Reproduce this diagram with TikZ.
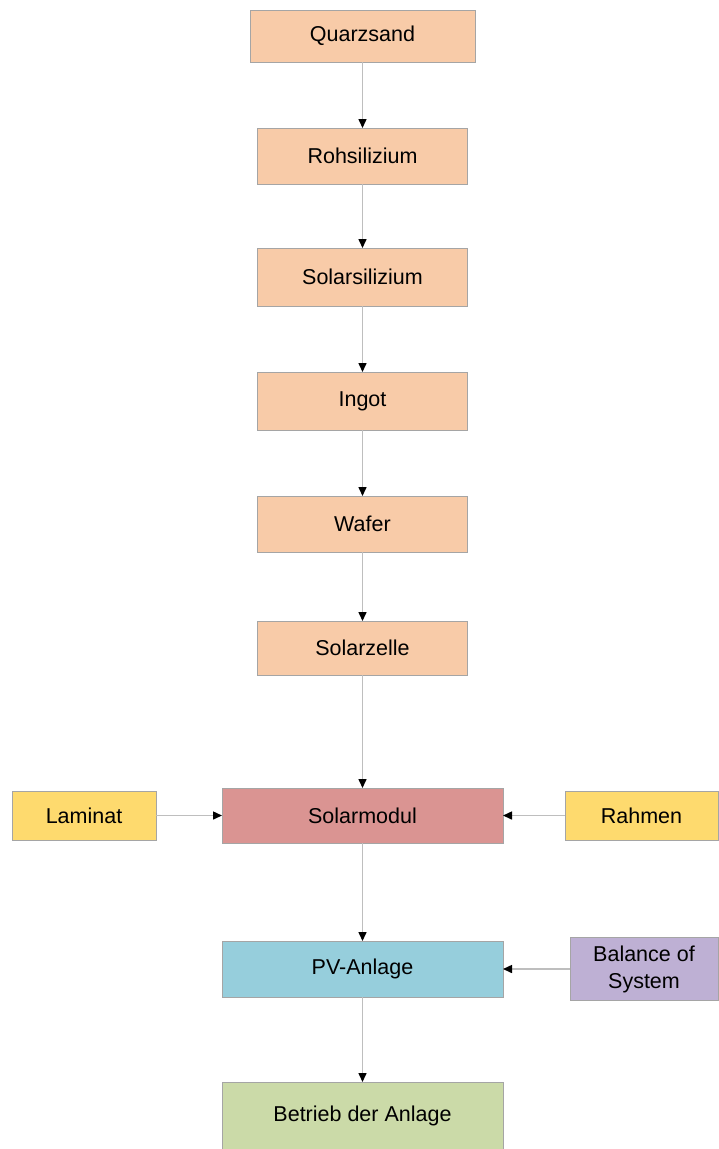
\documentclass[tikz,border=0pt]{standalone}
\usepackage{fontspec}
\setmainfont{Liberation Sans}
\usepackage{tikz}
\usetikzlibrary{positioning}
\usetikzlibrary{arrows.meta}

\definecolor{peach}{RGB}{248,203,168}
\definecolor{modulred}{RGB}{218,148,146}
\definecolor{gelb}{RGB}{254,218,110}
\definecolor{hellblau}{RGB}{150,206,220}
\definecolor{lila}{RGB}{190,176,212}
\definecolor{gruen}{RGB}{203,218,168}
\definecolor{rand}{RGB}{165,165,165}
\definecolor{linie}{RGB}{190,190,190}

\tikzstyle{block} = [rectangle, draw=rand, line width=1pt, inner sep=0pt, outer sep=0pt,
    text centered, font=\fontsize{21.5}{24}\selectfont]
\tikzstyle{stufe} = [block, fill=peach, minimum width=210pt]
\tikzstyle{breit} = [block, minimum width=281pt]
\tikzstyle{zulief} = [block, fill=gelb, minimum height=49pt]
\tikzstyle{line} = [draw=linie, line width=1.5pt, -{Triangle[black,length=9pt,width=8pt]}]

\begin{document}
\begin{tikzpicture}
  \useasboundingbox (0pt,0pt) rectangle (718pt,-1149pt);

  % Kette vom Rohstoff zur Zelle
  \node [stufe, minimum width=225pt, minimum height=52pt] (quarz) at (362.5pt,-36pt) {Quarzsand};
  \node [stufe, minimum height=56pt, below=66pt of quarz] (roh) {Rohsilizium};
  \node [stufe, minimum height=58pt, below=64pt of roh] (solsi) {Solarsilizium};
  \node [stufe, minimum height=58pt, below=66pt of solsi] (ingot) {Ingot};
  \node [stufe, minimum height=56pt, below=66pt of ingot] (wafer) {Wafer};
  \node [stufe, minimum height=54pt, below=69pt of wafer] (zelle) {Solarzelle};

  % Modul, Anlage, Betrieb
  \node [breit, fill=modulred, minimum height=55pt, below=113pt of zelle] (modul) {Solarmodul};
  \node [breit, fill=hellblau, minimum height=56pt, below=98pt of modul] (pv) {PV-Anlage};
  \node [breit, fill=gruen, minimum height=67pt, below=85pt of pv] (betrieb) {Betrieb der Anlage};

  % Zulieferungen
  \node [zulief, minimum width=144pt, left=66pt of modul] (laminat) {Laminat};
  \node [zulief, minimum width=153pt, right=62pt of modul] (rahmen) {Rahmen};
  \node [block, fill=lila, align=center, minimum width=148pt, minimum height=63pt,
    right=67pt of pv] (bos) {Balance of\\[3pt]System};

  \path [line] (quarz) -- (roh);
  \path [line] (roh) -- (solsi);
  \path [line] (solsi) -- (ingot);
  \path [line] (ingot) -- (wafer);
  \path [line] (wafer) -- (zelle);
  \path [line] (zelle) -- (modul);
  \path [line] (modul) -- (pv);
  \path [line] (pv) -- (betrieb);

  \path [line] (laminat) -- (modul);
  \path [line] (rahmen) -- (modul);
  \path [line] (bos) -- (pv);

\end{tikzpicture}
\end{document}
